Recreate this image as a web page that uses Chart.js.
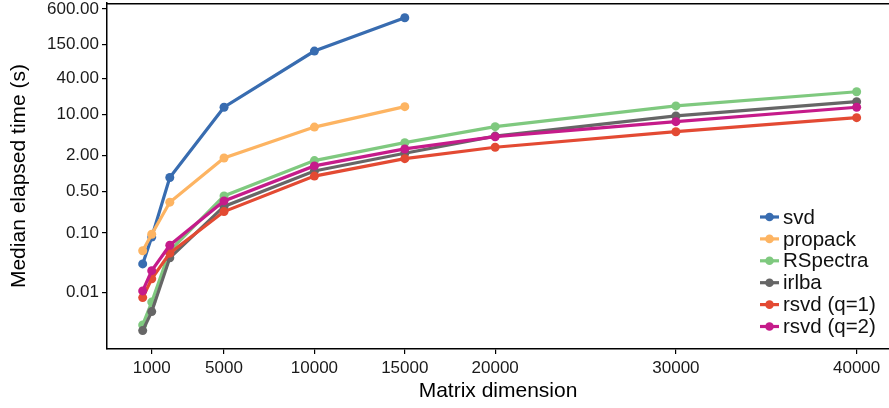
<!DOCTYPE html>
<html>
<head>
<meta charset="utf-8">
<script src="https://cdn.jsdelivr.net/npm/chart.js@4.4.0/dist/chart.umd.min.js"></script>
<style>
    html, body { margin: 0; padding: 0; background: #fff; }
    #wrap { width: 889px; height: 408px; }
</style>
</head>
<body>
<div id="wrap"><canvas id="timingChart" width="889" height="408"></canvas></div>
<script>
// Matrix sizes used in the benchmark
const sizes = [500, 1000, 2000, 5000, 10000, 15000, 20000, 30000, 40000];

// Median elapsed time (s) per method
const svdTimes       = [0.030, 0.085, 0.86, 13.2, 117, 427];
const propackTimes   = [0.050, 0.095, 0.33, 1.84, 6.1, 13.5];
const rspectraTimes  = [0.0028, 0.0068, 0.050, 0.42, 1.66, 3.33, 6.2, 13.9, 24.1];
const irlbaTimes     = [0.00225, 0.0047, 0.038, 0.28, 1.11, 2.21, 4.3, 9.4, 16.4];
const rsvdQ1Times    = [0.0081, 0.0168, 0.0455, 0.229, 0.91, 1.79, 2.79, 5.1, 8.8];
const rsvdQ2Times    = [0.0105, 0.0231, 0.062, 0.347, 1.35, 2.61, 4.2, 7.53, 13.2];

const methodNames  = ['svd', 'propack', 'RSpectra', 'irlba', 'rsvd (q=1)', 'rsvd (q=2)'];
const methodColors = ['#386CB0', '#FDB462', '#7FC97F', '#666666', '#E34A33', '#C51B8A'];
const allTimes     = [svdTimes, propackTimes, rspectraTimes, irlbaTimes, rsvdQ1Times, rsvdQ2Times];

const xTicks = [1000, 5000, 10000, 15000, 20000, 30000, 40000];
const yTicks = [0.01, 0.1, 0.5, 2, 10, 40, 150, 600];

const FONT = "'Liberation Sans', Arial, Helvetica, sans-serif";

const datasets = allTimes.map((times, i) => ({
    label: methodNames[i],
    data: times.map((t, j) => ({ x: sizes[j], y: t })),
    borderColor: methodColors[i],
    backgroundColor: methodColors[i],
    borderWidth: 3.2,
    pointRadius: 4.5,
    pointBorderWidth: 0,
    pointBackgroundColor: methodColors[i],
    tension: 0,
    clip: false,
    order: allTimes.length - 1 - i // ostatnia seria rysowana na wierzchu
}));

// legenda w prawym dolnym rogu + górna ramka
const extras = {
    id: 'extras',
    afterDraw(chart) {
        const { ctx, chartArea } = chart;
        ctx.save();
        ctx.strokeStyle = '#000';
        ctx.lineWidth = 1.5;
        ctx.beginPath();
        ctx.moveTo(chartArea.left, chartArea.top + 0.75);
        ctx.lineTo(chartArea.right, chartArea.top + 0.75);
        ctx.stroke();

        const x0 = chartArea.right - 129;
        const y0 = chartArea.bottom - 132;
        const step = 21.9;
        ctx.font = `20.5px ${FONT}`;
        ctx.textBaseline = 'middle';
        ctx.textAlign = 'left';
        methodNames.forEach((name, i) => {
            const y = y0 + i * step;
            ctx.strokeStyle = methodColors[i];
            ctx.fillStyle = methodColors[i];
            ctx.lineWidth = 3.2;
            ctx.beginPath();
            ctx.moveTo(x0, y);
            ctx.lineTo(x0 + 19, y);
            ctx.stroke();
            ctx.beginPath();
            ctx.arc(x0 + 9.5, y, 4.3, 0, Math.PI * 2);
            ctx.fill();
            ctx.fillStyle = '#111';
            ctx.fillText(name, x0 + 23, y + 1);
        });
        ctx.restore();
    }
};

new Chart(document.getElementById('timingChart'), {
    type: 'line',
    data: { datasets },
    plugins: [extras],
    options: {
        responsive: false,
        devicePixelRatio: 1,
        animation: false,
        layout: { autoPadding: false, padding: { top: 3, right: 0, left: 0, bottom: 0 } },
        plugins: {
            legend: { display: false },
            tooltip: { enabled: false }
        },
        scales: {
            x: {
                type: 'linear',
                min: -1475,
                max: 41790,
                afterBuildTicks: (scale) => { scale.ticks = xTicks.map(v => ({ value: v })); },
                afterFit: (scale) => {
                    scale.height = 59;
                    scale.paddingLeft = 0;
                    scale.paddingRight = 0;
                },
                grid: { drawOnChartArea: false, drawTicks: true, tickLength: 5, color: '#000', lineWidth: 1.2 },
                border: { display: true, color: '#000', width: 1.5 },
                ticks: {
                    autoSkip: false,
                    maxRotation: 0,
                    padding: 4,
                    color: '#1a1a1a',
                    font: { family: FONT, size: 17 },
                    callback: (v) => String(v)
                },
                title: {
                    display: true,
                    text: 'Matrix dimension',
                    color: '#000',
                    font: { family: FONT, size: 21 },
                    padding: { top: 0, bottom: 4 }
                }
            },
            y: {
                type: 'logarithmic',
                min: 0.0011,
                max: 757,
                afterBuildTicks: (scale) => { scale.ticks = yTicks.map(v => ({ value: v })); },
                afterFit: (scale) => {
                    scale.width = 107;
                    scale.paddingTop = 0;
                    scale.paddingBottom = 0;
                },
                grid: { drawOnChartArea: false, drawTicks: true, tickLength: 5, color: '#000', lineWidth: 1.2 },
                border: { display: true, color: '#000', width: 1.5 },
                ticks: {
                    autoSkip: false,
                    padding: 3,
                    color: '#1a1a1a',
                    font: { family: FONT, size: 17 },
                    callback: (v) => Number(v).toFixed(2)
                },
                title: {
                    display: true,
                    text: 'Median elapsed time (s)',
                    color: '#000',
                    font: { family: FONT, size: 21 },
                    padding: { top: 7, bottom: 0 }
                }
            }
        }
    }
});
</script>
</body>
</html>
